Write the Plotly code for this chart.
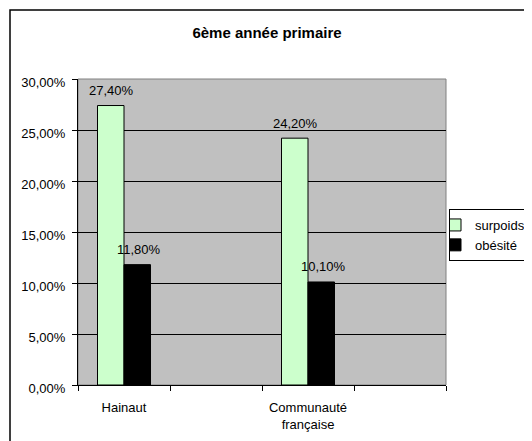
import plotly.graph_objects as go

categories = ["Hainaut", "Communauté<br>française"]
series_names = ["surpoids", "obésité"]
surpoids = [27.40, 24.20]
obesite = [11.80, 10.10]
y_ticks = [0, 5, 10, 15, 20, 25, 30]
title_text = "<b>6ème année primaire</b>"

FONT = "Arial, Liberation Sans, sans-serif"
OFF = 8  # page body margin in the browser
W, H = 532 - OFF, 441 - OFF
ML, MR, MT, MB = 78 - OFF, 532 - 446, 79 - OFF, 441 - 385
plot_h = H - MT - MB
plot_w = W - ML - MR

def fmt(v):
    return f"{v:.2f}%".replace(".", ",")

fig = go.Figure()
fig.add_trace(go.Bar(
    name=series_names[0], x=categories, y=surpoids,
    marker=dict(color="#CCFFCC", line=dict(color="#000000", width=1)),
))
fig.add_trace(go.Bar(
    name=series_names[1], x=categories, y=obesite,
    marker=dict(color="#000000", line=dict(color="#000000", width=1)),
))
# invisible trace to carry the tick-mark axis
fig.add_trace(go.Scatter(x=[-0.25, 1.75], y=[0, 0], xaxis="x2", mode="markers",
                         marker=dict(opacity=0), showlegend=False, hoverinfo="skip"))

bar_px = 26.5
annotations = []
for i, vals in enumerate([surpoids, obesite]):
    for c, v in zip(categories, vals):
        annotations.append(dict(
            x=c, y=v, xref="x", yref="y", text=fmt(v), showarrow=False,
            xshift=(i - 0.5) * bar_px + (2 if i == 1 else 1), yshift=15,
            yanchor="middle", font=dict(family=FONT, size=13, color="#000000"),
        ))

shapes = [
    # outer chart border (extends past right and bottom)
    dict(type="rect", xref="paper", yref="paper",
         x0=(10 - OFF - ML) / plot_w, x1=2.0,
         y0=-1.0, y1=(H - MB - (10 - OFF)) / plot_h,
         line=dict(color="#000000", width=1.5), layer="below"),
    # plot area border (gray)
    dict(type="rect", xref="paper", yref="paper", x0=0, x1=1, y0=0, y1=1,
         line=dict(color="#808080", width=1), layer="between"),
]

fig.update_layout(
    width=W, height=H,
    margin=dict(l=ML, r=MR, t=MT, b=MB, autoexpand=False),
    paper_bgcolor="#FFFFFF", plot_bgcolor="#C0C0C0",
    separators=", ",
    font=dict(family=FONT, size=13, color="#000000"),
    title=dict(text=title_text, x=(267 - OFF) / W, xref="container", xanchor="center",
               y=1 - (33 - OFF) / H, yref="container", yanchor="middle",
               font=dict(family=FONT, size=15, color="#000000")),
    barmode="group", bargap=0.712, bargroupgap=0,
    xaxis=dict(type="category", range=[-0.25, 1.75], ticks="", showgrid=False,
               showline=True, linecolor="#000000", linewidth=1,
               ticklabelstandoff=10, tickfont=dict(family=FONT, size=13, color="#000000")),
    xaxis2=dict(overlaying="x", anchor="y", side="bottom", type="linear",
                range=[-0.25, 1.75], tickmode="array",
                tickvals=[-0.25, 0.25, 0.75, 1.25, 1.75],
                ticks="outside", ticklen=5, tickcolor="#000000",
                showticklabels=False, showgrid=False, showline=False, zeroline=False),
    yaxis=dict(range=[0, 30], tickvals=y_ticks,
               ticktext=[fmt(v) for v in y_ticks],
               ticks="outside", ticklen=5, tickcolor="#000000",
               showgrid=True, gridcolor="#000000", gridwidth=1,
               showline=True, linecolor="#000000", linewidth=1, zeroline=False,
               ticklabelstandoff=4, ticklabelshift=3,
               tickfont=dict(family=FONT, size=13, color="#000000")),
    legend=dict(x=(449 - 78) / plot_w, xanchor="left",
                y=(385 - 209) / plot_h, yanchor="top",
                bordercolor="#000000", borderwidth=1, bgcolor="#FFFFFF",
                font=dict(family=FONT, size=13, color="#000000"),
                itemwidth=30, tracegroupgap=0, indentation=-15),
    annotations=annotations, shapes=shapes,
)

fig.write_html("out.html")
